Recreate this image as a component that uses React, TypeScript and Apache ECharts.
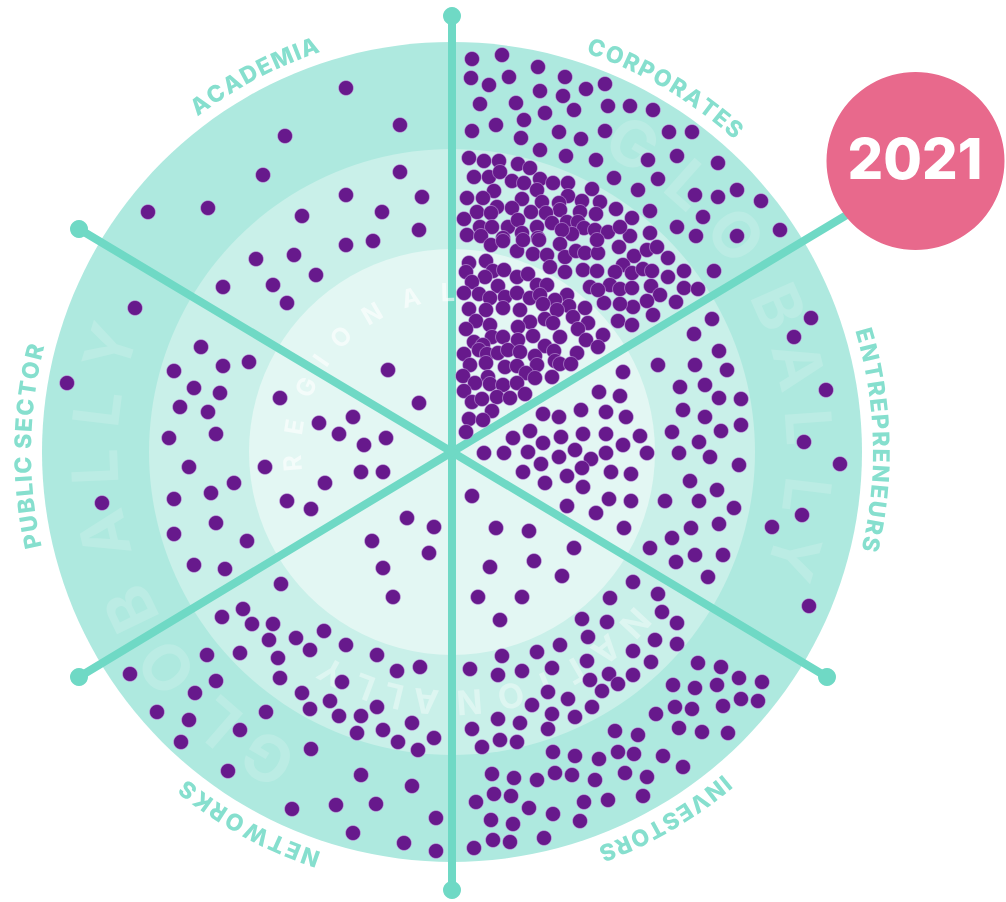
import React, { useEffect, useRef } from "react";
import * as echarts from "echarts";

const corporates = [
[472,59],[502,55],[538,67],[471,78],[489,85],[509,77],[565,77],[540,91],[563,96],[586,89],[605,84],[480,104],[516,103],[545,113],[574,110],[608,106],[630,106],[653,110],[524,120],[472,131],[496,125],[521,138],[559,132],[581,139],[605,131],[669,132],[692,132],[540,150],[566,156],[596,160],[648,160],[677,156],[718,163],[614,178],[658,179],[638,190],[592,189],[695,195],[718,197],[737,190],[761,201],[703,217],[650,211],[616,209],[632,218],[677,227],[696,236],[650,233],[737,236],[780,230],[630,236],
[469,158],[484,161],[499,161],[518,164],[530,168],[474,177],[489,177],[500,172],[512,181],[524,183],[540,179],[553,183],[568,183],[537,190],[494,191],[467,198],[483,198],[522,199],[568,196],[542,202],[582,201],[600,202],[559,203],[477,212],[497,207],[491,213],[512,208],[531,212],[560,210],[580,212],[596,214],[546,213],[464,219],[480,227],[492,227],[508,227],[518,220],[537,227],[552,223],[567,222],[578,222],[584,228],[595,230],[608,232],[620,227],[467,235],[503,238],[522,233],[572,234],[538,238],[481,236],[562,230],
[491,245],[503,241],[517,251],[523,240],[539,240],[533,254],[547,255],[550,267],[560,244],[565,257],[565,272],[576,251],[585,253],[583,270],[598,253],[597,240],[597,271],[619,247],[634,256],[647,250],[657,247],[668,258],[684,271],[668,277],[714,271],[623,265],[615,272],[632,273],[643,269],[652,271],[651,286],[660,295],[684,288],[698,289],[676,302],[647,301],[633,307],[620,304],[604,303],[610,285],[620,289],[632,288],[590,287],[598,290],[653,315],[618,321],[632,325],
[469,263],[486,261],[466,272],[493,271],[504,270],[485,277],[472,282],[517,277],[528,274],[498,286],[537,285],[547,285],[464,293],[479,294],[490,298],[505,297],[517,293],[530,298],[540,295],[567,295],[555,300],[543,304],[569,306],[585,308],[469,309],[486,310],[503,308],[520,310],[530,322],[545,319],[557,310],[573,317],[588,323],[476,321],[490,325],[466,329],[518,327],[553,323],[578,329],[603,335],[492,337],[503,337],[474,342],[518,340],[533,336],[560,337],[586,340],[598,347],[545,346],[483,345],[464,354],[479,350],[487,354],[498,353],[508,350],[520,352],[554,351],[577,353],[535,356],[486,363],[470,365],[505,367],[517,366],[537,365],[555,361],[560,364],[571,364],[463,376],[488,377],[526,373],[535,378],[552,377],[475,383],[490,384],[503,385],[517,383],[464,391],[497,397],[510,398],[525,394],[472,402],[482,399],[492,411],[469,419],[483,420],[466,432]];

const entrepreneurs = [
[623,372],[599,392],[620,396],[543,414],[559,417],[581,410],[606,412],[626,417],[530,431],[513,438],[543,443],[561,437],[583,434],[606,434],[640,436],[484,453],[504,453],[528,452],[575,450],[559,457],[623,445],[606,453],[647,453],[591,459],[582,468],[541,464],[523,472],[567,476],[611,472],[631,474],[545,483],[583,487],[609,499],[631,501],[567,506],[596,513],[624,528],[665,501],
[712,319],[694,334],[719,351],[658,365],[695,365],[727,370],[680,387],[705,385],[719,398],[741,399],[683,410],[705,417],[741,425],[721,431],[672,432],[699,442],[679,453],[710,457],[739,465],[690,481],[717,490],[699,501],[734,508],[719,524],[691,528],[672,538],[650,548],[695,555],[723,555],[676,562],[708,577],
[811,318],[794,337],[826,390],[804,442],[840,464],[802,515],[772,527],[809,606]];

const investors = [
[472,496],[496,528],[529,531],[574,548],[534,561],[490,567],[562,576],[478,597],[522,597],[500,620],[633,582],[610,598],[658,594],[662,612],[677,623],[582,619],[607,622],[588,637],[560,645],[537,652],[502,656],[655,640],[677,644],[633,651],[587,661],[651,662],[470,669],[498,675],[522,671],[552,668],[590,680],[609,674],[633,675],[618,684],[602,691],[698,663],[721,667],[739,678],[762,682],[673,685],[695,688],[717,685],
[548,692],[568,699],[532,705],[592,707],[552,714],[575,717],[498,719],[520,723],[472,729],[548,729],[500,740],[517,742],[482,747],[553,752],[575,756],[599,759],[615,731],[638,735],[618,752],[634,754],[663,756],[683,767],[656,714],[675,707],[692,709],[723,706],[741,699],[758,701],[679,728],[702,732],[728,733],[492,774],[514,778],[537,780],[555,773],[572,775],[595,780],[625,773],[647,777],[643,796],[494,794],[511,796],[476,802],[529,808],[584,802],[608,800],[553,814],[491,820],[513,824],[580,821],[544,838],[493,840],[510,842],[474,848]];

const networks = [
[393,597],[243,609],[222,617],[252,624],[273,624],[324,631],[269,640],[296,638],[310,650],[346,645],[207,655],[240,653],[278,658],[377,655],[420,667],[397,671],[130,674],[216,681],[280,678],[342,682],[195,693],[302,693],[330,701],[377,707],[157,712],[266,712],[310,709],[339,716],[361,716],[189,720],[412,723],[240,730],[357,733],[383,730],[398,742],[434,738],[181,742],[418,750],[311,749],[361,775],[228,771],[412,786],[292,809],[336,805],[376,804],[436,818],[353,833],[404,843],[436,851],
[407,518],[434,527],[372,541],[429,553],[383,568],[281,584]];

const publicSector = [
[135,308],[67,383],[102,503],[201,347],[174,371],[223,366],[249,362],[194,388],[220,393],[180,407],[208,412],[169,438],[216,434],[189,467],[234,483],[211,493],[174,499],[216,523],[174,534],[247,541],[194,565],[225,569],[265,467],[280,398],[319,423],[353,417],[339,434],[364,445],[386,438],[361,472],[383,472],[325,483],[287,501],[311,509]];

const academia = [
[346,88],[400,125],[285,136],[263,175],[400,172],[148,212],[208,208],[346,195],[422,197],[302,216],[382,212],[419,230],[346,245],[373,241],[294,255],[256,259],[316,275],[223,287],[273,285],[287,303],[388,370],[419,403]];

const sectorDots = [corporates, entrepreneurs, investors, networks, publicSector, academia];

const CX = 452, CY = 452;
const spokeEnds = [[452,16],[870,201],[827,677],[452,890],[79,677],[79,229]];
const spokeHasKnob = [true,false,true,true,true,true];

const ringRadii = [410, 303, 203];
const ringColors = ["#aee9df", "#c9f0e9", "#e3f7f3"];

const outerLabels = [
  { text: "CORPORATES", from: 19.7, to: 41.1 },
  { text: "ENTREPRENEURS", from: 74.2, to: 102.4 },
  { text: "INVESTORS", from: 140.4, to: 158.7 },
  { text: "NETWORKS", from: 199.3, to: 218 },
  { text: "PUBLIC SECTOR", from: 258, to: 283.5 },
  { text: "ACADEMIA", from: 324, to: 340.6 },
];
const faintWords = [
  { text: "GLOBALLY", r: 358, size: 64, op: 0.16, angles: [30.4,41.6,52.6,66,76,86,97,107] },
  { text: "GLOBALLY", r: 358, size: 64, op: 0.16, angles: [211,221,233,244,256.7,267.6,277,287] },
  { text: "NATIONALLY", r: 251, size: 34, op: 0.38, angles: [133,142,150,158,166.4,176,186,193.5,200.5,208.7] },
  { text: "REGIONAL", r: 160, size: 25, op: 0.6, angles: [266,279,294,305,316,330,345,358.5] },
];

function letter(ch: string, deg: number, r: number, font: string, fill: string, opacity: number, z: number) {
  const a = (deg * Math.PI) / 180;
  return {
    type: "text", z, silent: true,
    x: CX + r * Math.sin(a), y: CY - r * Math.cos(a), rotation: -a,
    style: { text: ch, font, fill, opacity, align: "center", verticalAlign: "middle" },
  };
}

function curvedLabel(text: string, from: number, to: number, r: number, font: string, fill: string) {
  const ctx = document.createElement("canvas").getContext("2d")!;
  ctx.font = font;
  const w = text.split("").map((c) => ctx.measureText(c).width);
  const pos: number[] = [0];
  for (let i = 1; i < w.length; i++) pos.push(pos[i - 1] + (w[i - 1] + w[i]) / 2);
  const total = pos[pos.length - 1];
  return text.split("").flatMap((c, i) => c === " " ? [] : [letter(c, from + ((to - from) * pos[i]) / total, r, font, fill, 1, 3)]);
}

export default function App() {
  const ref = useRef<HTMLDivElement>(null);
  useEffect(() => {
    const chart = echarts.init(ref.current!, undefined, { renderer: "svg" });
    const graphics: any[] = [];
    ringRadii.forEach((r, i) => graphics.push({ type: "circle", z: 0, silent: true, shape: { cx: CX, cy: CY, r }, style: { fill: ringColors[i] } }));
    faintWords.forEach((w) => w.text.split("").forEach((c, i) =>
      graphics.push(letter(c, w.angles[i], w.r, `700 ${w.size}px Inter`, "#ffffff", w.op, 3))));
    outerLabels.forEach((l) => graphics.push(...curvedLabel(l.text, l.from, l.to, 429, "800 23px Inter", "#86dfce")));
    graphics.push({ type: "circle", z: 8, silent: true, shape: { cx: 915.5, cy: 161, r: 89 }, style: { fill: "#e8698c" } });
    graphics.push({ type: "text", z: 9, silent: true, x: 915, y: 159, style: { text: "2021", font: "800 56px Inter", fill: "#ffffff", align: "center", verticalAlign: "middle" } });

    const spokes = spokeEnds.map((end, i) => ({
      type: "line", z: 2, silent: true, showSymbol: true, clip: false,
      lineStyle: { color: "#6fd9c5", width: 8, cap: "round" },
      itemStyle: { color: "#6fd9c5" },
      symbolSize: 18,
      data: [
        { value: [CX, CY], symbol: "none" },
        { value: end, symbol: spokeHasKnob[i] ? "circle" : "none" },
      ],
    }));
    const dots = sectorDots.map((d) => ({
      type: "scatter", z: 5, silent: true, clip: false, symbolSize: 15,
      itemStyle: { color: "#67198c", opacity: 1, borderColor: "rgba(214,190,240,0.5)", borderWidth: 1 },
      data: d,
    }));

    chart.setOption({
      animation: false,
      grid: { left: 0, right: 0, top: 0, bottom: 0 },
      xAxis: { type: "value", min: 0, max: 1006, show: false },
      yAxis: { type: "value", min: 0, max: 902, inverse: true, show: false },
      graphic: { elements: graphics },
      series: [...spokes, ...dots],
    });
    return () => chart.dispose();
  }, []);
  return <div ref={ref} style={{ position: "fixed", left: 0, top: 0, width: 1006, height: 902, background: "#fff", filter: "blur(0.5px)" }} />;
}
